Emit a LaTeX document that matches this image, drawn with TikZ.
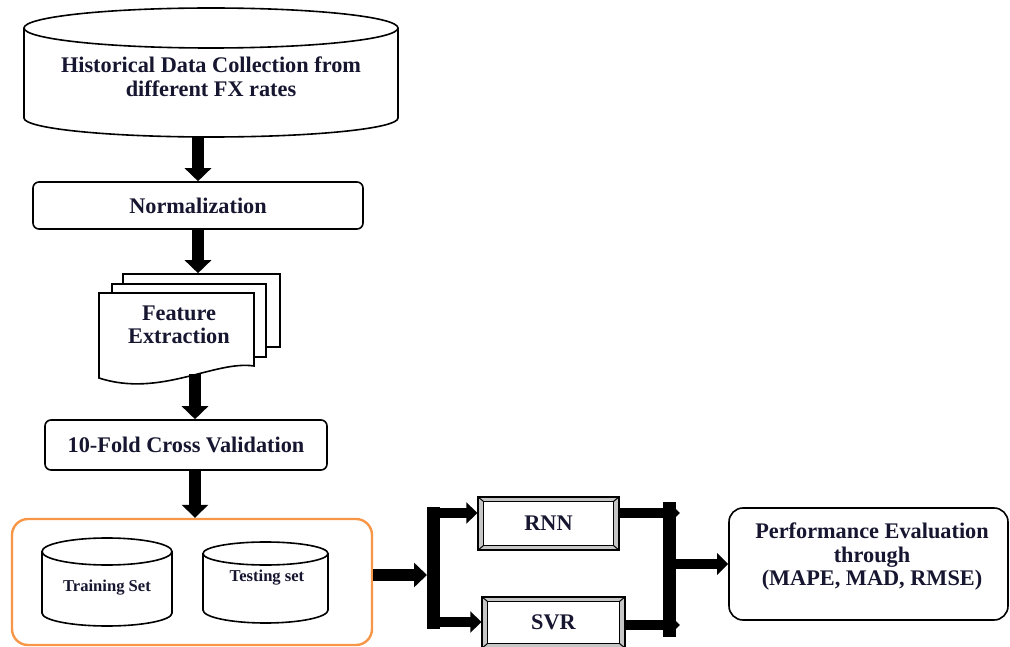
\documentclass[tikz,border=0pt]{standalone}
\usepackage{fontspec}
\setmainfont{Liberation Serif}
\usetikzlibrary{arrows.meta,calc}
\definecolor{ink}{RGB}{22,22,48}
\definecolor{frameorange}{RGB}{247,150,70}
\tikzset{
  lbl/.style={font=\bfseries\fontsize{22.3}{23.5}\selectfont, align=center, text=ink},
  smalllbl/.style={font=\bfseries\fontsize{16.6}{18}\selectfont, align=center, text=ink},
  outline/.style={draw=black, line width=1.6pt},
  roundbox/.style={outline, rounded corners=6pt, fill=white, inner sep=0pt},
  sheet/.style={outline, fill=white, inner sep=0pt},
  bevelbox/.style={draw=black, line width=1.3pt, fill=gray!45, inner sep=0pt},
  flow/.style={line width=12pt, -{Triangle[width=26pt,length=13pt]}},
  feed/.style={line width=12pt, -{Triangle[width=24pt,length=13pt]}},
  branch/.style={line width=10pt, -{Triangle[width=21pt,length=11pt]}},
  bar/.style={line width=13pt, line cap=rect},
}
% cylinder: centre x, x radius, top y, bottom y, top y radius, bottom y radius
\newcommand\drum[6]{%
  \draw[outline, fill=white] ({#1-#2},#3) -- ({#1-#2},#4)
    arc[start angle=180, end angle=360, x radius=#2pt, y radius=#6pt] -- ({#1+#2},#3);
  \draw[outline, fill=white] (#1,#3) ellipse[x radius=#2pt, y radius=#5pt];
}
% bevelled frame drawn inside a named node
\newcommand\bevel[1]{%
  \draw[line width=1pt] (#1.north west) -- ++(6pt,-5pt)
                         (#1.north east) -- ++(-6pt,-5pt)
                         (#1.south west) -- ++(6pt,5pt)
                         (#1.south east) -- ++(-6pt,5pt);
  \draw[line width=1.3pt, fill=white] ($(#1.north west)+(6pt,-5pt)$) rectangle ($(#1.south east)+(-6pt,5pt)$);
}
\begin{document}
\begin{tikzpicture}[x=1pt, y=-1pt]
\useasboundingbox (0,0) rectangle (1010,647);
\clip (0,0) rectangle (1010,647);

% data source
\drum{211}{187}{28}{118}{20}{19}
\node[minimum width=374pt, minimum height=129pt] (hist) at (211,72.5) {};
\node[lbl] (histtext) at (211,77) {Historical Data Collection from\\different FX rates};

% normalization
\node[roundbox, lbl, minimum width=330pt, minimum height=47pt] (norm) at (198,205.5) {Normalization};

% feature extraction (stack of documents)
\node[sheet, minimum width=157pt, minimum height=73pt] (sheet3) at (201.5,310.5) {};
\node[sheet, minimum width=154pt, minimum height=73pt] (sheet2) at (189,320.5) {};
\draw[outline, fill=white] (99,293) -- (254,293) -- (254,366)
  .. controls (215,360) and (160,398) .. (99,378) -- cycle;
\node[lbl] (feat) at (179,325) {Feature\\Extraction};
\coordinate (featbot) at (195,374);

% cross validation
\node[roundbox, lbl, minimum width=282pt, minimum height=50pt] (cv) at (186,445) {10-Fold Cross Validation};

% data split
\node[draw=frameorange, line width=2.4pt, rounded corners=16pt, minimum width=360pt, minimum height=126pt] (data) at (192,582) {};
\drum{107}{65}{551.5}{613}{13.5}{13}
\node[smalllbl] (train) at (107,588) {Training Set};
\drum{265.5}{62.5}{553.5}{610}{11.5}{13}
\node[smalllbl] (test) at (267,578) {Testing set};

% models
\node[bevelbox, minimum width=141pt, minimum height=53pt] (rnn) at (548.5,523.5) {};
\bevel{rnn}
\node[lbl] (rnntext) at (rnn) {RNN};
\node[bevelbox, minimum width=143pt, minimum height=51pt] (svr) at (553.5,622.5) {};
\bevel{svr}
\node[lbl] (svrtext) at (svr) {SVR};

% evaluation
\node[outline, rounded corners=14pt, fill=white, minimum width=279pt, minimum height=112pt] (perf) at (868.5,564) {};
\node[lbl] (perftext) at (872,557) {Performance Evaluation\\through\\(MAPE, MAD, RMSE)};

% junction points
\coordinate (split) at (427,575);
\coordinate (sA) at (433.5,513);
\coordinate (sB) at (433.5,622);
\coordinate (jA) at (669,513);
\coordinate (jB) at (669,625);
\coordinate (jM) at (669,564);

% vertical flow
\draw[flow] (hist.south -| norm) -- (norm.north);
\draw[flow] (norm.south) -- (norm.south |- sheet3.north);
\draw[flow] (featbot) -- (featbot |- cv.north);
\draw[flow] (cv.south -| featbot) -- (featbot |- data.north);

% fan out to the models
\draw[feed] (data.east |- split) -- (split);
\draw[bar] (sA) -- (sB);
\draw[branch] (sA) -- (rnn.west |- sA);
\draw[branch] (sB) -- (svr.west |- sB);

% fan in to the evaluation
\draw[branch] (rnn.east |- jA) -- ($(jA)+(11pt,0pt)$);
\draw[branch] (svr.east |- jB) -- ($(jB)+(11pt,0pt)$);
\draw[bar] ($(jA)+(0pt,5pt)$) -- ($(jB)+(0pt,-5pt)$);
\draw[branch] (jM) -- (perf.west |- jM);
\end{tikzpicture}
\end{document}
